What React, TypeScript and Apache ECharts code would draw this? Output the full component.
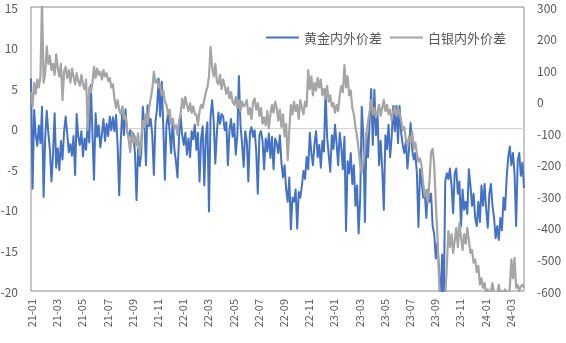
import React, { useEffect, useRef } from 'react';
import * as echarts from 'echarts';

// x-axis labels, one every 16 points
const tickLabels = [
  '21-01', '21-03', '21-05', '21-07', '21-09', '21-11',
  '22-01', '22-03', '22-05', '22-07', '22-09', '22-11',
  '23-01', '23-03', '23-05', '23-07', '23-09', '23-11',
  '24-01', '24-03',
];
const pointsPerTick = 16;

const seriesNames = ['黄金内外价差', '白银内外价差'];

// 黄金内外价差 (left axis)
const gold = [
  6.2, -7.4, 2.3, -0.8, -2.1, 0.4, -1.8, 2.7, -8.4, -1.2,
  2.2, -0.5, -2.6, -6.5, -3.1, 1.9, -4.8, -2.4, -5.1, -1.5,
  -3.8, -0.4, 1.5, -0.6, -2.9, -1.9, -3.3, -0.9, -5.7, 1.8,
  -1.0, -2.0, -0.3, -3.4, -1.2, -2.6, 0.8, -1.7, 5.4, -0.5,
  -6.3, 1.9, -1.0, 0.4, -2.3, -0.7, 1.2, -1.5, 0.6, -0.9,
  1.5, -0.2, 1.4, -0.3, 1.7, -2.0, -8.2, -1.5, 2.5, -0.8,
  2.4, -0.4, -1.0, -0.2, -1.6, -0.6, -3.0, -8.8, -2.4, -4.6,
  -3.0, 2.7, 0.5, -4.5, 2.9, 0.3, 1.2, -0.8, -5.7, 0.8,
  2.4, 6.2, 1.5, 5.8, 0.2, -6.3, 0.5, 1.8, -0.3, -3.0,
  1.2, -2.5, -4.0, -6.0, -1.0, 1.6, -0.8, -2.0, -0.5, -3.2,
  -1.2, -3.5, -0.3, -1.3, 0.5, -2.6, -0.5, -6.5, -1.2, 0.3,
  -7.0, -1.0, 0.8, -10.2, 1.5, 3.5, 1.0, -4.3, -0.5, 2.0,
  0.6, 1.8, 1.5, -0.2, 0.8, -4.5, -0.2, 1.2, -1.0, 0.6,
  -3.2, -0.8, 6.5, 0.5, -1.8, -4.7, -0.3, -1.5, -6.5, -0.5,
  0.2, -1.0, -0.2, -2.8, -8.0, -0.8, -0.3, -1.5, -5.0, -1.2,
  -2.8, -0.6, -3.6, -1.0, -5.0, -1.2, -1.8, -3.0, -0.8, -4.2,
  -6.0, -4.5, -7.5, -9.0, -6.0, -12.4, -8.5, -9.0, -7.5, -12.3,
  -7.8, -8.5, -7.0, -5.2, -6.2, -3.5, -5.0, -0.5, -3.0, -4.5,
  -1.8, -0.3, -3.5, -2.0, -4.8, -1.5, -2.8, 4.8, -1.0, -3.2,
  -5.3, -0.8, -2.5, 0.5, -1.8, -4.5, -0.5, -2.3, -5.0, -1.0,
  -12.6, -4.0, -5.5, -3.0, -6.8, -4.5, -9.5, -7.0, -12.9, -8.5,
  2.7, -1.0, -11.5, -0.5, -3.5, 1.0, 4.9, -2.0, 4.8, -0.8,
  2.0, -4.5, -1.5, -5.0, -10.0, -0.8, -2.5, 0.5, -3.5, -1.0,
  2.8, -0.3, 2.8, -1.8, 2.8, -0.5, -2.0, -3.0, -1.5, -4.9,
  -2.5, 0.7, -2.5, -3.8, -3.0, -5.5, -12.1, -5.0, -6.5, -8.5,
  -7.8, -11.0, -7.5, -9.0, -8.0, -12.0, -13.0, -16.0, -14.0, -17.0,
  -22.0, -15.5, -22.0, -6.5, -5.5, -6.2, -4.9, -7.0, -10.4, -5.5,
  -4.9, -8.0, -6.5, -12.0, -7.5, -10.0, -9.0, -10.5, -5.0, -7.0,
  -9.5, -8.0, -11.0, -12.0, -9.0, -11.5, -7.0, -9.5, -6.8, -10.0,
  -12.2, -8.0, -6.8, -9.5, -11.0, -13.5, -12.0, -13.7, -11.0, -12.5,
  -8.5, -10.0, -6.0, -3.5, -2.2, -4.5, -3.0, -5.5, -12.0, -4.0,
  -3.0, -5.8, -4.2, -7.3,
];

// 白银内外价差 (right axis)
const silver = [
  30, -16, 60, 25, 70, 45, 80, 320, 60, 90,
  175, 120, 145, 100, 120, 85, 150, 105, 80, 120,
  5, 95, 110, 75, 100, 60, 105, 80, 55, 90,
  65, 50, 85, 55, 40, 70, -90, 45, 30, 60,
  110, 75, 105, 85, 95, 70, 100, 80, 90, 65,
  75, 45, 55, 10, -20, 5, -25, -40, -15, -55,
  -45, -90, -120, -160, -95, -130, -110, -140, -100, -170,
  -120, -60, -80, -40, -70, -20, 10, 40, 95, 60,
  70, 45, 55, 20, 35, 0, -10, -40, -25, -70,
  -55, -85, -75, -105, -60, -40, 10, -20, 15, -10,
  -30, -5, -35, -15, -40, -40, -75, -30, -10, -20,
  5, 30, 45, 80, 174, 110, 80, 120, 65, 55,
  85, 40, 70, 50, 25, 45, 10, 30, 0, -10,
  15, -20, 5, -30, 0, -15, -10, 5, -40, -20,
  -55, 0, 10, -25, -5, -45, -20, -70, -50, -75,
  -30, -85, -40, -10, -35, 0, -20, -60, -25, -80,
  -40, -110, -70, -185, -90, -10, -40, 0, -30, -10,
  -55, 5, -20, -40, 0, -15, 100, 40, 80, 20,
  60, 35, 75, 45, 70, 20, 40, 10, 50, 0,
  20, -15, -5, -35, -10, -30, 20, 50, 30, 116,
  45, 80, 20, 35, -20, -40, -80, -110, -150, -200,
  -225, -190, -150, -100, -60, -30, 5, -40, -20, -50,
  -30, -10, -45, -20, 5, -30, -10, -40, -25, -60,
  -30, -15, -45, -20, -35, -60, -90, -80, -120, -140,
  -110, -130, -95, -150, -130, -165, -190, -180, -205, -260,
  -300, -280, -320, -250, -160, -150, -200, -320, -420, -560,
  -640, -680, -660, -620, -520, -410, -460, -420, -480, -440,
  -400, -460, -385, -430, -470, -420, -450, -400, -440, -480,
  -470, -510, -500, -540, -520, -580, -560, -590, -575, -610,
  -595, -620, -600, -575, -610, -620, -610, -580, -615, -600,
  -610, -595, -605, -620, -590, -500, -560, -495, -590, -580,
  -600, -585, -580, -590,
];

const FONT = "'Noto Sans CJK SC', 'Microsoft YaHei', sans-serif";
const TEXT_COLOR = '#595959';
const GOLD_COLOR = '#4472C4';
const SILVER_COLOR = '#A5A5A5';

export default function App() {
  const ref = useRef<HTMLDivElement>(null);

  useEffect(() => {
    if (!ref.current) return;
    const chart = echarts.init(ref.current, null, { renderer: 'svg' });
    const categories = gold.map((_, i) => String(i));
    // only the zero line of the left axis is visible
    const clear = 'rgba(0,0,0,0)';
    const zeroLineColors = [clear, clear, clear, clear, '#D4D4D4', clear, clear, clear];

    chart.setOption({
      animation: false,
      textStyle: { fontFamily: FONT },
      grid: {
        left: 31, right: 42, top: 7, bottom: 52,
        show: true, borderColor: '#8C8C8C', borderWidth: 1,
        containLabel: false, outerBoundsMode: 'none',
      },
      legend: {
        left: 261, top: 26,
        icon: 'rect', itemWidth: 33, itemHeight: 2, itemGap: 8,
        selectedMode: false,
        textStyle: { fontSize: 13, color: TEXT_COLOR, fontFamily: FONT },
        data: seriesNames,
      },
      xAxis: {
        type: 'category',
        data: categories,
        boundaryGap: false,
        axisLine: { show: false },
        axisTick: { show: false },
        splitLine: { show: false },
        axisLabel: {
          interval: pointsPerTick - 1,
          rotate: 90,
          margin: 8,
          fontSize: 11,
          color: TEXT_COLOR,
          fontFamily: FONT,
          formatter: (_v: string, idx: number) =>
            idx % pointsPerTick === 0 ? (tickLabels[idx / pointsPerTick] ?? '') : '',
        },
      },
      yAxis: [
        {
          type: 'value', min: -20, max: 15, interval: 5,
          axisLine: { show: false }, axisTick: { show: false },
          axisLabel: { color: TEXT_COLOR, fontSize: 12, lineHeight: 12, margin: 13, fontFamily: FONT },
          splitLine: { show: true, lineStyle: { color: zeroLineColors, width: 1 } },
        },
        {
          type: 'value', min: -600, max: 300, interval: 100, position: 'right',
          axisLine: { show: false }, axisTick: { show: false },
          axisLabel: { color: TEXT_COLOR, fontSize: 12, lineHeight: 12, margin: 13, fontFamily: FONT },
          splitLine: { show: false },
        },
      ],
      series: [
        {
          name: seriesNames[0], type: 'line', yAxisIndex: 0, data: gold,
          symbol: 'none', clip: true,
          lineStyle: { color: GOLD_COLOR, width: 2, join: 'round' },
          itemStyle: { color: GOLD_COLOR },
        },
        {
          name: seriesNames[1], type: 'line', yAxisIndex: 1, data: silver,
          symbol: 'none', clip: true,
          lineStyle: { color: SILVER_COLOR, width: 2.2, join: 'round' },
          itemStyle: { color: SILVER_COLOR },
        },
      ],
    });

    return () => chart.dispose();
  }, []);

  return (
    <div
      ref={ref}
      style={{ position: 'fixed', left: 0, top: 0, width: 566, height: 343 }}
    />
  );
}
